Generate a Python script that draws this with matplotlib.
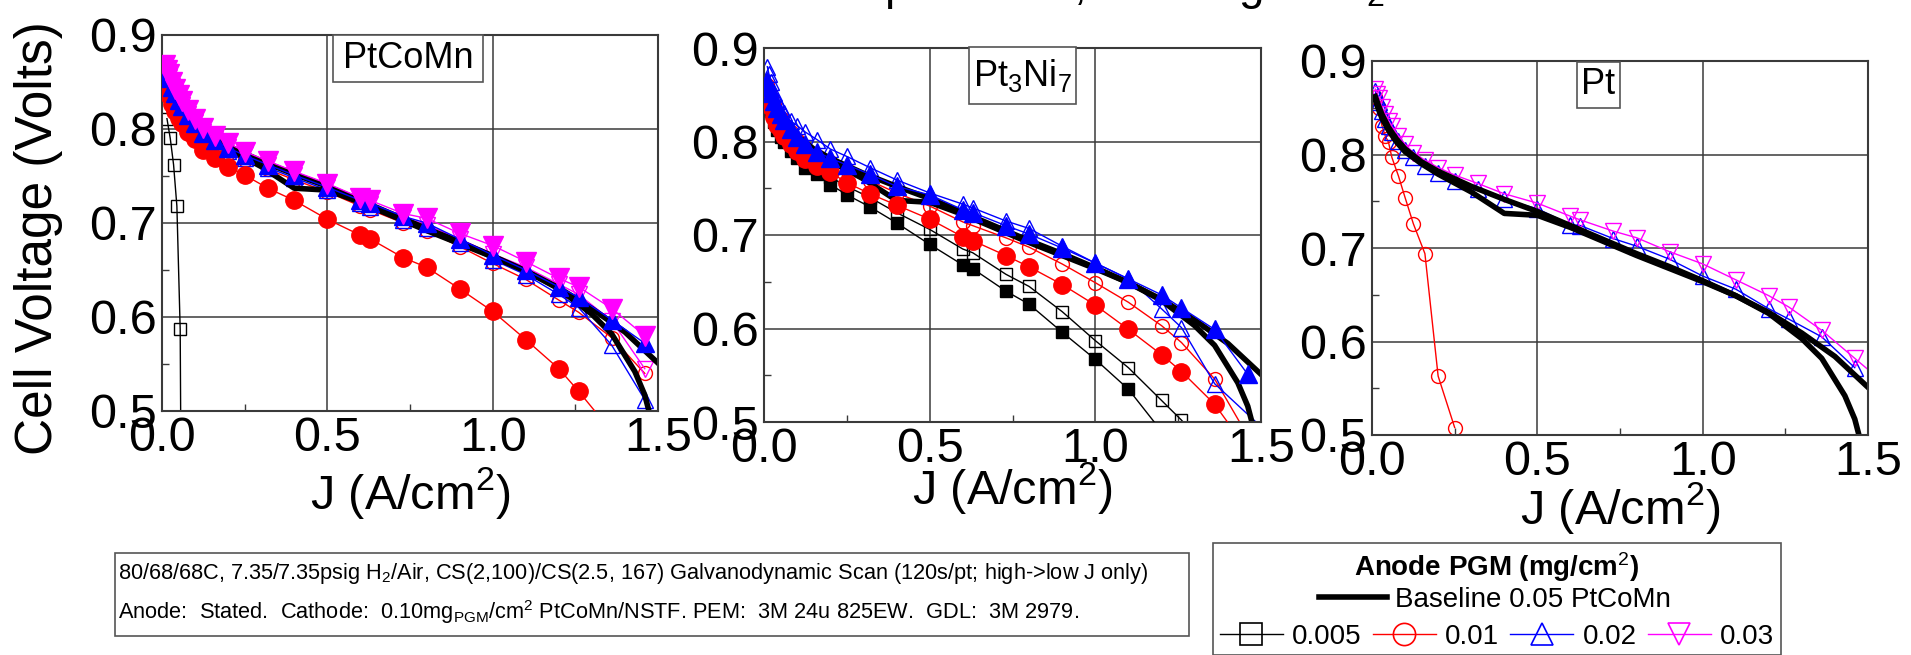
import matplotlib
matplotlib.use("Agg")
import matplotlib.pyplot as plt
from matplotlib import font_manager
from matplotlib.lines import Line2D
from matplotlib.patches import Rectangle

names = {f.name for f in font_manager.fontManager.ttflist}
FONT = "Liberation Sans" if "Liberation Sans" in names else "DejaVu Sans"
plt.rcParams["font.family"] = FONT
plt.rcParams["mathtext.fontset"] = "custom"
plt.rcParams["mathtext.rm"] = FONT
plt.rcParams["mathtext.it"] = FONT + ":italic"
plt.rcParams["mathtext.bf"] = FONT + ":bold"

# ---- data (J in A/cm2, V in volts) ----
J_SCAN = [0.01, 0.015, 0.02, 0.03, 0.04, 0.05, 0.06, 0.08, 0.1, 0.125, 0.16, 0.2, 0.25, 0.32, 0.4,
          0.5, 0.6, 0.63, 0.73, 0.8, 0.9, 1.0, 1.1, 1.2, 1.26, 1.36, 1.46]

# baseline 0.05 PtCoMn anode, two runs (same in every panel)
base_a_j = [0.01, 0.02, 0.03, 0.05, 0.075, 0.1, 0.15, 0.2, 0.3, 0.4, 0.5, 0.6, 0.7, 0.8, 0.9, 1.0,
            1.1, 1.2, 1.3, 1.4, 1.5]
base_a_v = [0.862, 0.852, 0.843, 0.829, 0.816, 0.806, 0.792, 0.782, 0.766, 0.752, 0.739, 0.724, 0.709,
            0.694, 0.680, 0.665, 0.649, 0.631, 0.609, 0.584, 0.551]
base_b_j = [0.01, 0.02, 0.03, 0.05, 0.075, 0.1, 0.15, 0.2, 0.3, 0.4, 0.5, 0.6, 0.7, 0.8, 0.9, 1.0,
            1.1, 1.2, 1.3, 1.36, 1.43, 1.46, 1.48]
base_b_v = [0.858, 0.848, 0.839, 0.826, 0.813, 0.803, 0.790, 0.779, 0.760, 0.737, 0.735, 0.722, 0.707,
            0.692, 0.678, 0.664, 0.649, 0.630, 0.603, 0.582, 0.542, 0.517, 0.490]

# PtCoMn cathode panel
ptcomn_005_j = [0.015, 0.025, 0.035, 0.045, 0.055, 0.058]
ptcomn_005_v = [0.811, 0.790, 0.762, 0.718, 0.587, 0.400]
ptcomn_01f_v = [0.848, 0.842, 0.836, 0.827, 0.819, 0.812, 0.806, 0.797, 0.789, 0.778, 0.769, 0.760,
                0.751, 0.737, 0.724, 0.704, 0.687, 0.683, 0.663, 0.653, 0.630, 0.606, 0.576, 0.545,
                0.521, 0.478]
ptcomn_01_v = [0.858, 0.852, 0.847, 0.838, 0.831, 0.825, 0.819, 0.809, 0.800, 0.790, 0.782, 0.775,
               0.767, 0.757, 0.746, 0.733, 0.718, 0.714, 0.700, 0.692, 0.675, 0.657, 0.640, 0.618,
               0.605, 0.578, 0.540]
ptcomn_02_v = [0.862, 0.856, 0.851, 0.842, 0.835, 0.828, 0.822, 0.812, 0.803, 0.793, 0.785, 0.777,
               0.769, 0.759, 0.748, 0.735, 0.721, 0.717, 0.703, 0.695, 0.679, 0.661, 0.645, 0.624,
               0.610, 0.570, 0.512]
ptcomn_02f_v = [0.865, 0.859, 0.854, 0.845, 0.838, 0.831, 0.825, 0.815, 0.806, 0.796, 0.788, 0.780,
                0.772, 0.762, 0.751, 0.738, 0.724, 0.721, 0.707, 0.700, 0.683, 0.666, 0.650, 0.632,
                0.621, 0.597, 0.572]
ptcomn_03_v = [0.866, 0.860, 0.855, 0.846, 0.839, 0.832, 0.826, 0.816, 0.807, 0.797, 0.789, 0.781,
               0.773, 0.762, 0.751, 0.738, 0.723, 0.720, 0.706, 0.698, 0.683, 0.667, 0.653, 0.635,
               0.624, 0.596, 0.545]
ptcomn_03f_v = [0.868, 0.863, 0.858, 0.850, 0.843, 0.836, 0.830, 0.820, 0.811, 0.801, 0.793, 0.785,
                0.776, 0.766, 0.755, 0.742, 0.727, 0.724, 0.710, 0.705, 0.689, 0.676, 0.659, 0.641,
                0.632, 0.609, 0.580]

# Pt3Ni7 cathode panel
ptni_005f_v = [0.848, 0.840, 0.833, 0.821, 0.812, 0.805, 0.799, 0.790, 0.782, 0.772, 0.765, 0.754,
               0.743, 0.730, 0.713, 0.690, 0.668, 0.664, 0.640, 0.626, 0.596, 0.567, 0.535, 0.490]
ptni_005_v = [0.852, 0.845, 0.838, 0.827, 0.819, 0.812, 0.806, 0.797, 0.789, 0.780, 0.772, 0.762,
              0.752, 0.740, 0.724, 0.706, 0.685, 0.681, 0.658, 0.645, 0.618, 0.587, 0.558, 0.523,
              0.502, 0.460]
ptni_01f_v = [0.850, 0.843, 0.837, 0.826, 0.818, 0.812, 0.806, 0.797, 0.790, 0.781, 0.774, 0.767,
              0.756, 0.744, 0.732, 0.717, 0.698, 0.694, 0.678, 0.666, 0.647, 0.625, 0.599, 0.572,
              0.554, 0.519, 0.470]
ptni_01_v = [0.860, 0.853, 0.848, 0.839, 0.831, 0.825, 0.819, 0.810, 0.802, 0.793, 0.785, 0.778,
             0.769, 0.758, 0.745, 0.731, 0.714, 0.710, 0.697, 0.687, 0.669, 0.649, 0.628, 0.603,
             0.585, 0.546, 0.485]
ptni_02_j = J_SCAN[:26] + [1.5]
ptni_02_v = [0.880, 0.872, 0.864, 0.852, 0.843, 0.836, 0.830, 0.822, 0.817, 0.810, 0.802, 0.792,
             0.784, 0.772, 0.759, 0.745, 0.733, 0.729, 0.715, 0.707, 0.688, 0.670, 0.653, 0.621,
             0.601, 0.541, 0.495]
ptni_02f_v = [0.865, 0.858, 0.852, 0.843, 0.836, 0.829, 0.823, 0.813, 0.805, 0.797, 0.789, 0.782,
              0.775, 0.765, 0.752, 0.743, 0.727, 0.724, 0.710, 0.701, 0.686, 0.670, 0.653, 0.636,
              0.622, 0.599, 0.551]

# Pt cathode panel
pt_01_j = [0.01, 0.02, 0.03, 0.04, 0.05, 0.06, 0.08, 0.1, 0.125, 0.16, 0.2, 0.25]
pt_01_v = [0.862, 0.850, 0.831, 0.820, 0.813, 0.797, 0.777, 0.754, 0.726, 0.694, 0.563, 0.508]
pt_02_v = [0.868, 0.862, 0.856, 0.846, 0.838, 0.830, 0.824, 0.814, 0.805, 0.797, 0.788, 0.780,
           0.772, 0.763, 0.752, 0.742, 0.725, 0.724, 0.710, 0.702, 0.688, 0.670, 0.656, 0.635,
           0.624, 0.605, 0.572]
pt_03_j = J_SCAN + [1.55]
pt_03_v = [0.870, 0.865, 0.860, 0.851, 0.843, 0.836, 0.830, 0.820, 0.811, 0.802, 0.794, 0.786,
           0.778, 0.769, 0.758, 0.748, 0.734, 0.730, 0.718, 0.711, 0.696, 0.683, 0.666, 0.649,
           0.637, 0.612, 0.582, 0.555]

panel_names = ["PtCoMn", "Pt$_3$Ni$_7$", "Pt"]
panel_series = [
    [("0.005", ptcomn_005_j, ptcomn_005_v),
     ("0.01f", J_SCAN[:26], ptcomn_01f_v),
     ("0.01", J_SCAN, ptcomn_01_v),
     ("0.02", J_SCAN, ptcomn_02_v),
     ("0.03", J_SCAN, ptcomn_03_v),
     ("0.02f", J_SCAN, ptcomn_02f_v),
     ("0.03f", J_SCAN, ptcomn_03f_v)],
    [("0.005f", J_SCAN[:24], ptni_005f_v),
     ("0.005", J_SCAN[:26], ptni_005_v),
     ("0.01f", J_SCAN, ptni_01f_v),
     ("0.01", J_SCAN, ptni_01_v),
     ("0.02", ptni_02_j, ptni_02_v),
     ("0.02f", J_SCAN, ptni_02f_v)],
    [("0.01", pt_01_j, pt_01_v),
     ("0.02", J_SCAN, pt_02_v),
     ("0.03", pt_03_j, pt_03_v)],
]

legend_keys = ["0.005", "0.01", "0.02", "0.03"]

STYLE = {
    "0.005": dict(color="black", marker="s", mfc="none", ms=8, zorder=2),
    "0.005f": dict(color="black", marker="s", mfc="black", ms=9, zorder=3),
    "0.01": dict(color="red", marker="o", mfc="none", ms=10, zorder=2),
    "0.01f": dict(color="red", marker="o", mfc="red", ms=12.5, zorder=3),
    "0.02": dict(color="blue", marker="^", mfc="none", ms=11, zorder=2),
    "0.02f": dict(color="blue", marker="^", mfc="blue", ms=12.5, zorder=3),
    "0.03": dict(color="magenta", marker="v", mfc="none", ms=11, zorder=2),
    "0.03f": dict(color="magenta", marker="v", mfc="magenta", ms=14, zorder=3),
}

W, H = 1911, 655
fig = plt.figure(figsize=(W / 100, H / 100), dpi=100)

# axes boxes in pixels: left, top, right, bottom
ax_px = [(162, 35, 658, 411), (764, 48, 1261, 422), (1372, 61, 1868, 435)]
# name boxes in pixels: left, top, right, bottom
box_px = [(333, 35, 483, 82), (969, 47, 1076, 104), (1577, 62, 1620, 108)]
xlabel_top = [465, 460, 480]

GRID = "#3a3a3a"
axes = []
for i, (l, t, r, b) in enumerate(ax_px):
    ax = fig.add_axes([l / W, 1 - b / H, (r - l) / W, (b - t) / H])
    axes.append(ax)
    ax.plot(base_a_j, base_a_v, color="black", lw=4, zorder=2.5)
    ax.plot(base_b_j, base_b_v, color="black", lw=4, zorder=2.5)
    for key, j, v in panel_series[i]:
        ax.plot(j, v, lw=1, mew=1, **STYLE[key])

    ax.set_xlim(0, 1.5)
    ax.set_ylim(0.5, 0.9)
    ax.set_xticks([0, 0.5, 1.0, 1.5])
    ax.set_xticklabels(["0.0", "0.5", "1.0", "1.5"])
    ax.set_yticks([0.5, 0.6, 0.7, 0.8, 0.9])
    ax.set_yticklabels(["0.5", "0.6", "0.7", "0.8", "0.9"])
    ax.set_xticks([0.25, 0.75, 1.25], minor=True)
    ax.set_yticks([0.55, 0.65, 0.75, 0.85], minor=True)
    ax.grid(True, which="major", color=GRID, lw=1.1)
    ax.tick_params(which="both", direction="in", labelsize=35, pad=3.5, colors=GRID, labelcolor="black")
    ax.tick_params(which="major", length=0)
    ax.tick_params(which="minor", length=5, width=1)
    for s in ax.spines.values():
        s.set_color(GRID)
        s.set_linewidth(1.5)

    ax.set_xlabel("J (A/cm$^2$)", fontsize=35)
    ax.xaxis.set_label_coords(0.5, (b - xlabel_top[i]) / (b - t))

    bl, bt, br, bb = box_px[i]
    ax.add_patch(Rectangle(((bl - l) / (r - l), (b - bb) / (b - t)), (br - bl) / (r - l),
                           (bb - bt) / (b - t), transform=ax.transAxes, fc="white", ec="#555555",
                           lw=1.2, zorder=5, clip_on=False))
    ax.text(((bl + br) / 2 - l) / (r - l), (b - (bt + bb) / 2) / (b - t), panel_names[i],
            transform=ax.transAxes, ha="center", va="center", fontsize=26, zorder=6)

axes[0].set_ylabel("Cell Voltage (Volts)", fontsize=37)
axes[0].yaxis.set_label_coords(-0.20, 0.461)

# clipped title at the very top (only descenders show in the reference)
fig.text(688 / W, 1.0015, "Anode Impact Test, 0.10 mg Pt/H$_2$", fontsize=33, ha="left", va="baseline")

# conditions footnote
fig.patches.append(Rectangle((115 / W, 1 - 636 / H), (1189 - 115) / W, (636 - 553) / H,
                             transform=fig.transFigure, fill=False, ec="#555555", lw=1.2))
fig.text(118 / W, 1 - 574 / H,
         "80/68/68C, 7.35/7.35psig H$_2$/Air, CS(2,100)/CS(2.5, 167) Galvanodynamic Scan "
         "(120s/pt; high->low J only)", fontsize=15.7, ha="left", va="center")
fig.text(118 / W, 1 - 612 / H,
         "Anode:  Stated.  Cathode:  0.10mg$_{\\mathrm{PGM}}$/cm$^2$ PtCoMn/NSTF. PEM:  3M 24u 825EW.  "
         "GDL:  3M 2979.", fontsize=15.7, ha="left", va="center")

# legend
fig.patches.append(Rectangle((1213 / W, 0), (1781 - 1213) / W, (655 - 543) / H,
                             transform=fig.transFigure, fill=False, ec="#555555", lw=1.2))
fig.text(1497 / W, 1 - 567 / H, "Anode PGM (mg/cm$^2$)", fontsize=20, fontweight="bold",
         ha="center", va="center")
h_base = Line2D([], [], color="black", lw=4)
leg1 = fig.legend([h_base], ["Baseline 0.05 PtCoMn"], loc="center",
                  bbox_to_anchor=(1495 / W, 1 - 600 / H), frameon=False, fontsize=20,
                  handlelength=2.45, handletextpad=0.3, borderpad=0, borderaxespad=0)
handles = []
for key in legend_keys:
    st = dict(STYLE[key])
    st.pop("zorder")
    st["ms"] = 16
    handles.append(Line2D([], [], lw=1, mew=1.2, **st))
leg2 = fig.legend(handles, legend_keys, loc="center", bbox_to_anchor=(1497 / W, 1 - 637 / H),
                  ncol=4, frameon=False, fontsize=20, handlelength=2.27, handletextpad=0.33,
                  columnspacing=0.4, borderpad=0, borderaxespad=0)

fig.savefig("out.png", dpi=100, facecolor="white")
